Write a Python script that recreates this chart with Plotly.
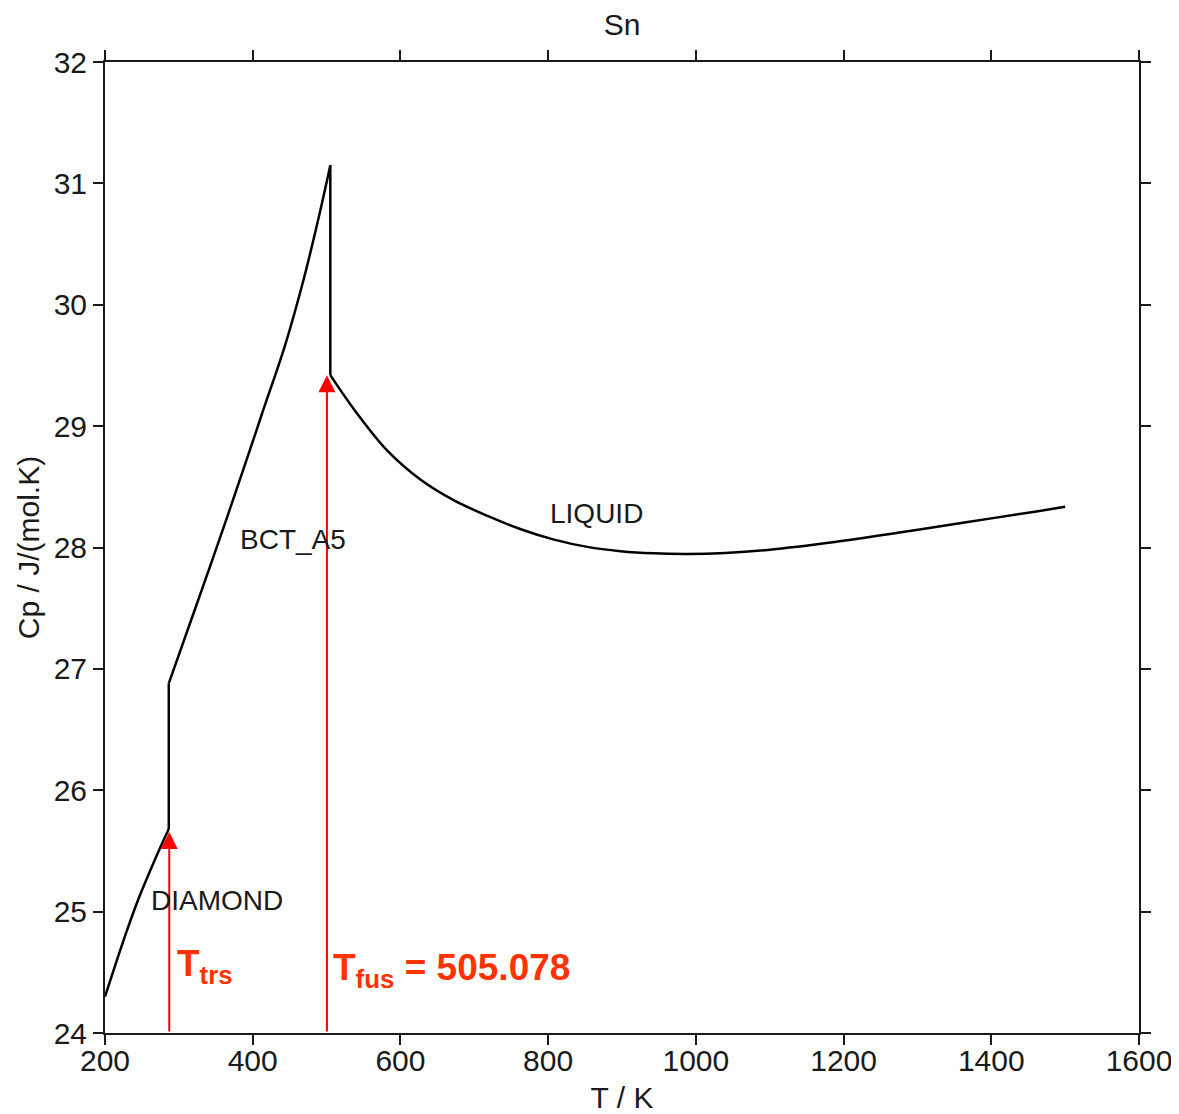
import plotly.graph_objects as go

# ---- data ----
diamond_T = [200, 215, 230, 245, 260, 275, 286.35]
diamond_cp = [24.30, 24.58, 24.85, 25.10, 25.32, 25.53, 25.68]

bct_T = [286.35, 320, 360, 396, 413, 444, 469, 489, 505.078]
bct_cp = [26.88, 27.46, 28.155, 28.80, 29.11, 29.67, 30.21, 30.71, 31.15]

liquid_T = [505.078, 537, 582, 627, 672, 718, 763, 808, 853, 898, 943, 989, 1040, 1097, 1188, 1278, 1368, 1459, 1500]
liquid_cp = [29.42, 29.14, 28.80, 28.56, 28.39, 28.26, 28.15, 28.065, 28.005, 27.97, 27.952, 27.947, 27.955, 27.98, 28.045, 28.125, 28.21, 28.295, 28.335]

# transition arrows (x position, tip value)
arrow_T = [287, 500.5]
arrow_tip = [25.655, 29.42]

phase_labels = ["DIAMOND", "BCT_A5", "LIQUID"]
phase_label_T = [352, 454, 866]
phase_label_cp = [25.09, 28.07, 28.28]

x_ticks = [200, 400, 600, 800, 1000, 1200, 1400, 1600]
y_ticks = [24, 25, 26, 27, 28, 29, 30, 31, 32]

FONT = "Liberation Sans, Arial, sans-serif"
INK = "#1a1a1a"
RED = "#ff0000"
LABEL_RED = "#ff3300"

fig = go.Figure()
line_style = dict(color="black", width=2.5)
curve_style = dict(color="black", width=2.5, shape="spline", smoothing=1.0)

fig.add_trace(go.Scatter(x=diamond_T, y=diamond_cp, mode="lines", line=curve_style,
                         hoverinfo="skip", showlegend=False))
fig.add_trace(go.Scatter(x=[diamond_T[-1], bct_T[0]], y=[diamond_cp[-1], bct_cp[0]],
                         mode="lines", line=line_style, hoverinfo="skip", showlegend=False))
fig.add_trace(go.Scatter(x=bct_T, y=bct_cp, mode="lines", line=curve_style,
                         hoverinfo="skip", showlegend=False))
fig.add_trace(go.Scatter(x=[bct_T[-1], liquid_T[0]], y=[bct_cp[-1], liquid_cp[0]],
                         mode="lines", line=line_style, hoverinfo="skip", showlegend=False))
fig.add_trace(go.Scatter(x=liquid_T, y=liquid_cp, mode="lines", line=curve_style,
                         hoverinfo="skip", showlegend=False))

# red arrows
for t, tip in zip(arrow_T, arrow_tip):
    fig.add_annotation(x=t, y=tip, ax=t, ay=y_ticks[0], xref="x", yref="y",
                       axref="x", ayref="y", showarrow=True, arrowhead=2,
                       arrowsize=1.7, arrowwidth=2, arrowcolor=RED, text="")

# phase labels
for lab, t, c in zip(phase_labels, phase_label_T, phase_label_cp):
    fig.add_annotation(x=t, y=c, text=lab, showarrow=False,
                       font=dict(family=FONT, size=28, color=INK),
                       xanchor="center", yanchor="middle")

# transition labels
fig.add_annotation(x=295, y=24.55, text="<b>T<sub>trs</sub></b>", showarrow=False,
                   xanchor="left", yanchor="middle",
                   font=dict(family=FONT, size=37, color=LABEL_RED))
fig.add_annotation(x=506.5, y=24.52, text="<b>T<sub>fus</sub> = 505.078</b>", showarrow=False,
                   xanchor="left", yanchor="middle",
                   font=dict(family=FONT, size=37, color=LABEL_RED))

axis_common = dict(showgrid=False, zeroline=False, showline=True, linecolor=INK,
                   linewidth=2, ticks="outside", ticklen=10, tickwidth=2,
                   tickcolor=INK, mirror="ticks", automargin=False,
                   tickfont=dict(family=FONT, size=30, color=INK))

# the page body adds an 8px offset, so the figure is 8px smaller on each side
W, H = 1171, 1106
fig.update_layout(
    width=W, height=H,
    paper_bgcolor="white", plot_bgcolor="white",
    margin=dict(l=97, r=40, t=54, b=81),
    title=dict(text="Sn", x=0.5, xref="paper", y=1 - 16 / H, yref="container",
               xanchor="center", yanchor="middle", automargin=False,
               font=dict(family=FONT, size=30, color=INK)),
    xaxis=dict(range=[200, 1600], tickvals=x_ticks, ticklabelstandoff=-10,
               title=dict(text="T / K", standoff=14,
                          font=dict(family=FONT, size=30, color=INK)),
               **axis_common),
    yaxis=dict(range=[24, 32], tickvals=y_ticks,
               title=dict(text="Cp / J/(mol.K)", standoff=5,
                          font=dict(family=FONT, size=30, color=INK)),
               **axis_common),
)

fig.write_html("out.html")
